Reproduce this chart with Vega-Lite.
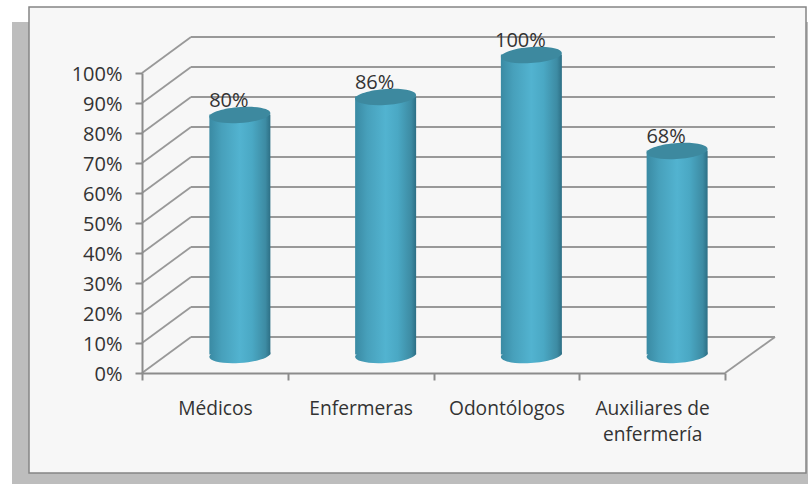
{
  "$schema": "https://vega.github.io/schema/vega-lite/v6.json",
  "width": 583,
  "height": 300,
  "padding": {"left": 142, "top": 73, "right": 83, "bottom": 111},
  "autosize": "none",
  "background": "#ffffff",
  "config": {
    "view": {"stroke": null},
    "font": "Open Sans",
    "axisY": {
      "tickCount": 11, "labelOverlap": false, "format": ".0%", "title": null, "grid": false,
      "labelFont": "Open Sans", "labelFontSize": 20, "labelColor": "#333333", "labelPadding": 13, "labelOffset": 1,
      "domainColor": "#8c8c8c", "domainWidth": 2, "tickColor": "#8c8c8c", "tickWidth": 2, "tickSize": 7
    },
    "axisX": {
      "title": null, "labelAngle": 0, "labelAlign": "center", "labelFont": "Open Sans", "labelFontSize": 19.2,
      "labelColor": "#333333", "labelPadding": 19, "labelLineHeight": 26, "tickBand": "extent",
      "domainColor": "#8c8c8c", "domainWidth": 2, "tickColor": "#8c8c8c", "tickWidth": 2, "tickSize": 7
    }
  },
  "datasets": {
    "profesiones": [
      {"profesion": "Médicos", "valor": 0.80},
      {"profesion": "Enfermeras", "valor": 0.86},
      {"profesion": "Odontólogos", "valor": 1.00},
      {"profesion": "Auxiliares de enfermería", "valor": 0.68}
    ],
    "marcas": [
      {"v": 0}, {"v": 0.1}, {"v": 0.2}, {"v": 0.3}, {"v": 0.4}, {"v": 0.5},
      {"v": 0.6}, {"v": 0.7}, {"v": 0.8}, {"v": 0.9}, {"v": 1}
    ]
  },
  "layer": [
    {
      "description": "Drop shadow of the chart panel",
      "data": {"values": [{}]},
      "mark": {"type": "rect", "fill": "#bdbdbd"},
      "encoding": {
        "x": {"value": -130}, "x2": {"value": 666},
        "y": {"value": -51}, "y2": {"value": 411}
      }
    },
    {
      "description": "Chart panel",
      "data": {"values": [{}]},
      "mark": {"type": "rect", "fill": "#f7f7f7", "stroke": "#858585", "strokeWidth": 1.5},
      "encoding": {
        "x": {"value": -113}, "x2": {"value": 664},
        "y": {"value": -66}, "y2": {"value": 400}
      }
    },
    {
      "description": "Gridlines on the back wall",
      "data": {"name": "marcas"},
      "mark": {"type": "rule", "stroke": "#999999", "strokeWidth": 2, "yOffset": -36},
      "encoding": {
        "x": {"value": 49}, "x2": {"value": 633},
        "y": {"field": "v", "type": "quantitative", "scale": {"domain": [0, 1]}, "axis": {"zindex": 1, "values": [0, 0.1, 0.2, 0.3, 0.4, 0.5, 0.6, 0.7, 0.8, 0.9, 1]}}
      }
    },
    {
      "description": "Oblique lines on the side wall",
      "data": {"name": "marcas"},
      "mark": {"type": "rule", "stroke": "#999999", "strokeWidth": 1.8, "y2Offset": -36},
      "encoding": {
        "x": {"value": 0}, "x2": {"value": 49},
        "y": {"field": "v", "type": "quantitative"},
        "y2": {"field": "v"}
      }
    },
    {
      "description": "Right edge of the floor",
      "data": {"values": [{"v": 0}]},
      "mark": {"type": "rule", "stroke": "#999999", "strokeWidth": 1.8, "y2Offset": -36},
      "encoding": {
        "x": {"value": 583}, "x2": {"value": 633},
        "y": {"field": "v", "type": "quantitative"},
        "y2": {"field": "v"}
      }
    },
    {
      "description": "Cylinder bases",
      "data": {"name": "profesiones"},
      "mark": {
        "type": "point", "filled": true, "opacity": 1, "size": 3721, "xOffset": 25, "yOffset": -18,
        "shape": "M -1,0.06 A 1,0.26 -4 1 1 1,-0.06 A 1,0.26 -4 1 1 -1,0.06 Z",
        "fill": {"x1": 0, "x2": 1, "y1": 0, "y2": 0, "gradient": "linear", "stops": [
          {"offset": 0, "color": "#3a8aa3"}, {"offset": 0.2, "color": "#47a0bb"}, {"offset": 0.5, "color": "#52b3d0"},
          {"offset": 0.7, "color": "#4aa8c4"}, {"offset": 0.92, "color": "#3d8ba3"}, {"offset": 1, "color": "#2d6f85"}
        ]}
      },
      "encoding": {
        "x": {"field": "profesion", "type": "nominal", "sort": null},
        "y": {"datum": 0, "type": "quantitative"}
      }
    },
    {
      "description": "Cylinder bodies",
      "data": {"name": "profesiones"},
      "mark": {
        "type": "bar", "size": 61, "xOffset": 25, "x2Offset": 25, "yOffset": -18.5, "y2Offset": -17.5,
        "fill": {"x1": 0, "x2": 1, "y1": 0, "y2": 0, "gradient": "linear", "stops": [
          {"offset": 0, "color": "#3a8aa3"}, {"offset": 0.2, "color": "#47a0bb"}, {"offset": 0.5, "color": "#52b3d0"},
          {"offset": 0.7, "color": "#4aa8c4"}, {"offset": 0.92, "color": "#3d8ba3"}, {"offset": 1, "color": "#2d6f85"}
        ]}
      },
      "encoding": {
        "x": {"field": "profesion", "type": "nominal", "sort": null,
          "scale": {"paddingInner": 0, "paddingOuter": 0},
          "axis": {
            "zindex": 1,
            "labelExpr": "datum.label == 'Auxiliares de enfermería' ? ['Auxiliares de', 'enfermería'] : datum.label"
          }
        },
        "y": {"field": "valor", "type": "quantitative"}
      }
    },
    {
      "description": "Cylinder tops",
      "data": {"name": "profesiones"},
      "mark": {
        "type": "point", "filled": true, "opacity": 1, "size": 3721, "xOffset": 25, "yOffset": -18, "color": "#3d899f",
        "shape": "M -1,0.06 A 1,0.26 -4 1 1 1,-0.06 A 1,0.26 -4 1 1 -1,0.06 Z"
      },
      "encoding": {
        "x": {"field": "profesion", "type": "nominal", "sort": null},
        "y": {"field": "valor", "type": "quantitative"}
      }
    },
    {
      "description": "Value labels",
      "data": {"name": "profesiones"},
      "mark": {"type": "text", "font": "Open Sans", "fontSize": 20, "fill": "#333333", "xOffset": 14, "yOffset": -32, "baseline": "middle"},
      "encoding": {
        "x": {"field": "profesion", "type": "nominal", "sort": null},
        "y": {"field": "valor", "type": "quantitative"},
        "text": {"field": "valor", "type": "quantitative", "format": ".0%"}
      }
    }
  ]
}
